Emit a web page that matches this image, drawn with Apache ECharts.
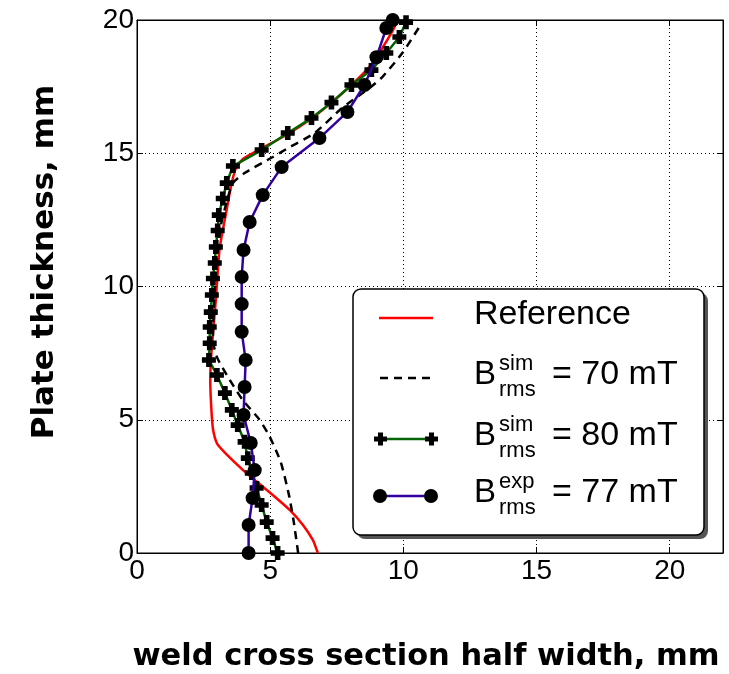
<!DOCTYPE html>
<html><head><meta charset="utf-8">
<script src="https://cdn.jsdelivr.net/npm/echarts@6/dist/echarts.min.js"></script>
<style>html,body{margin:0;padding:0;background:#fff}#c{width:729px;height:674px}</style>
</head><body><div id="c"></div>
<script>
// x = weld cross section half width (mm), y = plate thickness (mm)
const xTicks = [0, 5, 10, 15, 20];
const yTicks = [0, 5, 10, 15, 20];
const refData = [[6.79,0],[6.75,0.11],[6.6,0.49],[6.23,1.05],[5.74,1.61],[4.88,2.36],[3.98,3.11],[3.04,4.05],[2.88,4.5],[2.81,5.1],[2.75,6.5],[2.8,7.6],[2.96,9.5],[3.1,11.4],[3.37,12.9],[3.56,13.9],[3.74,14.5],[4.0,14.8],[4.72,15.2],[5.73,15.76],[6.55,16.3],[7.3,16.9],[8.05,17.56],[8.73,18.24],[9.18,18.9],[9.6,19.6],[9.74,19.9]];
const sim70Data = [[6.05,0],[5.88,1.2],[5.7,2.2],[5.4,3.4],[4.99,4.35],[4.6,5.0],[3.97,5.74],[3.48,6.5],[3.0,7.35],[2.85,8.0],[2.9,9.5],[3.0,11],[3.15,12.3],[3.4,13.3],[3.6,13.88],[4.04,14.26],[5.1,14.86],[5.73,15.23],[6.67,15.76],[7.7,16.7],[8.73,17.45],[9.21,17.86],[9.96,18.76],[10.6,19.74]];
const sim80Data = [[5.28,0],[5.09,0.56],[4.87,1.16],[4.68,1.8],[4.49,2.44],[4.31,3.0],[4.16,3.56],[4.04,4.17],[3.78,4.8],[3.56,5.37],[3.3,6.0],[3.0,6.68],[2.7,7.24],[2.73,7.87],[2.73,8.48],[2.77,9.04],[2.81,9.68],[2.85,10.3],[2.92,10.88],[2.96,11.48],[3.03,12.1],[3.07,12.68],[3.22,13.3],[3.37,13.88],[3.6,14.52],[4.68,15.12],[5.66,15.76],[6.55,16.32],[7.3,16.9],[8.05,17.56],[8.8,18.12],[9.36,18.76],[9.85,19.36],[10.1,19.92]];
const exp77Data = [[4.19,0],[4.19,1.05],[4.34,2.06],[4.42,3.11],[4.27,4.13],[4.0,5.18],[4.04,6.23],[4.08,7.24],[3.93,8.3],[3.93,9.34],[3.93,10.36],[4.0,11.37],[4.23,12.42],[4.72,13.43],[5.43,14.48],[6.85,15.57],[7.9,16.55],[8.54,17.56],[8.99,18.6],[9.36,19.7],[9.6,20.0]];
const seriesNames = ['Reference', 'B_sim_70', 'B_sim_80', 'B_exp_77'];

const PLUS = 'path://M3,0H7V3H10V7H7V10H3V7H0V3H3Z';
const FONT = 'Liberation Sans';
const chart = echarts.init(document.getElementById('c'), null, {renderer: 'canvas'});

function axisCommon(extra) {
  return Object.assign({
    type: 'value',
    interval: 5,
    axisLine: {show: true, onZero: false, lineStyle: {color: '#000', width: 1}},
    axisTick: {show: true, inside: true, length: 6, lineStyle: {color: '#000'}},
    splitLine: {show: true, lineStyle: {color: '#000', type: [1, 3], width: 1}},
    axisLabel: {show: false}
  }, extra);
}
const fmt = v => (v % 5 === 0 && v <= 20) ? String(v) : '';

const legendX = 353, legendY = 289, legendW = 351, legendH = 246;
const rows = [318, 378, 439, 496];

function rowText(y, sup, val) {
  return [
    {type: 'text', left: 474, top: y - 20, style: {text: 'B', font: '33px ' + FONT, fill: '#000'}},
    {type: 'text', left: 499, top: y - 25, style: {text: sup, font: '22px ' + FONT, fill: '#000'}},
    {type: 'text', left: 499, top: y + 1, style: {text: 'rms', font: '22px ' + FONT, fill: '#000'}},
    {type: 'text', left: 552, top: y - 20, style: {text: val, font: '34px ' + FONT, fill: '#000'}}
  ];
}

const graphics = [
  {type: 'rect', shape: {x: legendX + 4, y: legendY + 4, width: legendW, height: legendH, r: 8}, style: {fill: '#555'}, z: 100},
  {type: 'rect', shape: {x: legendX, y: legendY, width: legendW, height: legendH, r: 8}, style: {fill: '#fff', stroke: '#000', lineWidth: 1.5}, z: 101},
  {type: 'line', shape: {x1: 379, y1: rows[0], x2: 433, y2: rows[0]}, style: {stroke: '#ff0000', lineWidth: 2.5}, z: 102},
  {type: 'line', shape: {x1: 380, y1: rows[1], x2: 432, y2: rows[1]}, style: {stroke: '#000', lineWidth: 2.5, lineDash: [8, 6]}, z: 102},
  {type: 'line', shape: {x1: 379, y1: rows[2], x2: 432, y2: rows[2]}, style: {stroke: '#006400', lineWidth: 2.5}, z: 102},
  {type: 'rect', shape: {x: 374, y: rows[2] - 2.5, width: 13, height: 5}, style: {fill: '#000'}, z: 103},
  {type: 'rect', shape: {x: 378, y: rows[2] - 6.5, width: 5, height: 13}, style: {fill: '#000'}, z: 103},
  {type: 'rect', shape: {x: 425, y: rows[2] - 2.5, width: 13, height: 5}, style: {fill: '#000'}, z: 103},
  {type: 'rect', shape: {x: 429, y: rows[2] - 6.5, width: 5, height: 13}, style: {fill: '#000'}, z: 103},
  {type: 'line', shape: {x1: 380, y1: rows[3], x2: 431, y2: rows[3]}, style: {stroke: '#3300a0', lineWidth: 2.5}, z: 102},
  {type: 'circle', shape: {cx: 380, cy: rows[3], r: 7}, style: {fill: '#000'}, z: 103},
  {type: 'circle', shape: {cx: 431, cy: rows[3], r: 7}, style: {fill: '#000'}, z: 103},
  {type: 'text', left: 474, top: rows[0] - 20, style: {text: 'Reference', font: '34px ' + FONT, fill: '#000'}, z: 103},
  {type: 'text', x: 45, y: 262, rotation: Math.PI / 2,
   style: {text: 'Plate thickness, mm', font: 'bold 31px DejaVu Sans', fill: '#000', align: 'center', verticalAlign: 'middle'}},
  {type: 'text', x: 426, y: 657,
   style: {text: 'weld cross section half width, mm', font: 'bold 30.5px DejaVu Sans', fill: '#000', align: 'center', verticalAlign: 'middle'}}
];
rowText(rows[1], 'sim', '= 70 mT').concat(rowText(rows[2], 'sim', '= 80 mT'), rowText(rows[3], 'exp', '= 77 mT')).forEach(g => { g.z = 103; graphics.push(g); });

chart.setOption({
  animation: false,
  backgroundColor: '#fff',
  grid: {left: 137, top: 20, width: 586, height: 533, show: true, borderColor: '#000', borderWidth: 1},
  xAxis: [
    axisCommon({min: 0, max: 22, position: 'bottom',
      axisLabel: {show: true, formatter: fmt, color: '#000', fontSize: 28, fontFamily: FONT, margin: 4}}),
    axisCommon({min: 0, max: 22, position: 'top', splitLine: {show: false}})
  ],
  yAxis: [
    axisCommon({min: 0, max: 20, position: 'left',
      axisLabel: {show: true, formatter: fmt, color: '#000', fontSize: 28, fontFamily: FONT, margin: 3}}),
    axisCommon({min: 0, max: 20, position: 'right', splitLine: {show: false}})
  ],
  series: [
    {name: seriesNames[0], type: 'line', data: refData, smooth: 0.2, showSymbol: false, symbol: 'none',
     lineStyle: {color: '#ff0000', width: 2.5}, z: 2},
    {name: seriesNames[1], type: 'line', data: sim70Data, smooth: 0.2, showSymbol: false, symbol: 'none',
     lineStyle: {color: '#000', width: 2.5, type: [8, 6]}, z: 3},
    {name: seriesNames[2], type: 'line', data: sim80Data, symbol: PLUS, symbolSize: 14, showAllSymbol: true,
     itemStyle: {color: '#000'}, lineStyle: {color: '#006400', width: 2.5}, z: 4},
    {name: seriesNames[3], type: 'line', data: exp77Data, symbol: 'circle', symbolSize: 14, showAllSymbol: true,
     itemStyle: {color: '#000'}, lineStyle: {color: '#3300a0', width: 2.5}, z: 5}
  ],
  graphic: graphics
});
</script></body></html>
